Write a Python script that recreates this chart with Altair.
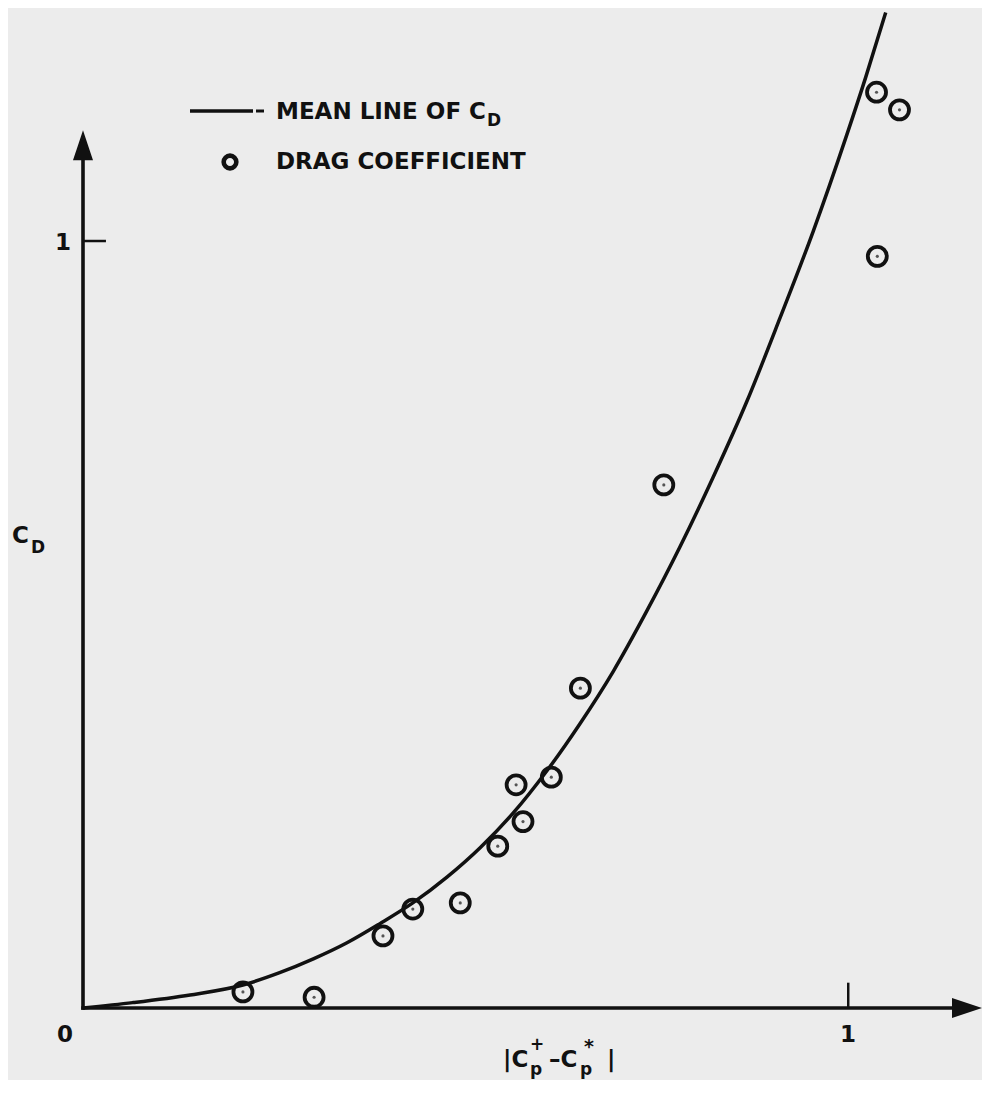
import altair as alt
import pandas as pd

# ---- data ----
PT_X = [0.209, 0.302, 0.392, 0.431, 0.493, 0.542, 0.566, 0.575, 0.612, 0.650, 0.759, 1.037, 1.067, 1.038]
PT_Y = [0.021, 0.014, 0.094, 0.129, 0.137, 0.211, 0.291, 0.243, 0.301, 0.417, 0.682, 1.194, 1.171, 0.980]

CURVE_X = [0.0, 0.065, 0.140, 0.209, 0.257, 0.301, 0.345, 0.388, 0.431, 0.476, 0.519, 0.562,
           0.606, 0.649, 0.693, 0.737, 0.780, 0.823, 0.868, 0.911, 0.954, 0.998, 1.023, 1.049]
CURVE_Y = [0.0, 0.007, 0.017, 0.030, 0.046, 0.064, 0.085, 0.110, 0.137, 0.171, 0.209, 0.254,
           0.309, 0.370, 0.439, 0.518, 0.601, 0.691, 0.792, 0.900, 1.012, 1.138, 1.214, 1.298]

X_TICKS = [1]
Y_TICKS = [1]

INK = "#111111"
BG = "#ececec"
FONT = "DejaVu Sans"

W, H = 897, 1000
xs = alt.Scale(domain=[0, 1.1722], nice=False, zero=False)
ys = alt.Scale(domain=[0, 1.3038], nice=False, zero=False)

pts = pd.DataFrame({"x": PT_X, "y": PT_Y})
crv = pd.DataFrame({"x": CURVE_X, "y": CURVE_Y})

X = lambda f="x": alt.X(f"{f}:Q", scale=xs, axis=None)
Y = lambda f="y": alt.Y(f"{f}:Q", scale=ys, axis=None)

curve = alt.Chart(crv).mark_line(
    interpolate="monotone", color=INK, strokeWidth=3.5
).encode(x=X(), y=Y())

rings = alt.Chart(pts).mark_point(
    shape="circle", size=361, filled=False, strokeWidth=3.8, color=INK, opacity=1
).encode(x=X(), y=Y())

dots = alt.Chart(pts).mark_point(
    shape="circle", size=10, filled=True, color="#555555", opacity=1
).encode(x=X(), y=Y())

# axes (in data units)
X_END, Y_END = 1.1552, 1.125
axes_df = pd.DataFrame({
    "x": [0, 0], "x2": [X_END, 0],
    "y": [0, 0], "y2": [0, Y_END],
})
axes = alt.Chart(axes_df).mark_rule(color=INK, strokeWidth=3.6, strokeCap="square").encode(
    x=X("x"), x2="x2:Q", y=Y("y"), y2="y2:Q"
)

xt = pd.DataFrame({"x": X_TICKS, "y": [0] * len(X_TICKS), "y2": [0.033] * len(X_TICKS)})
xticks = alt.Chart(xt).mark_rule(color=INK, strokeWidth=2.5).encode(
    x=X("x"), y=Y("y"), y2="y2:Q"
)
yt = pd.DataFrame({"y": Y_TICKS, "x": [0] * len(Y_TICKS), "x2": [0.03] * len(Y_TICKS)})
yticks = alt.Chart(yt).mark_rule(color=INK, strokeWidth=2.5).encode(
    y=Y("y"), x=X("x"), x2="x2:Q"
)

xarrow = alt.Chart(pd.DataFrame({"x": [X_END], "y": [0]})).mark_point(
    shape="M1,0L-1,0.667L-1,-0.667Z", size=900, filled=True, color=INK, opacity=1, strokeWidth=0
).encode(x=X(), y=Y())
yarrow = alt.Chart(pd.DataFrame({"x": [0], "y": [Y_END]})).mark_point(
    shape="M0,-1L0.667,1L-0.667,1Z", size=900, filled=True, color=INK, opacity=1, strokeWidth=0
).encode(x=X(), y=Y())

# ---- annotations (page px -> plot px) ----
OX, OY = 83, 8
one = pd.DataFrame({"a": [0]})


def txt(t, px, py, size=23, align="left", baseline="alphabetic"):
    return alt.Chart(one).mark_text(
        font=FONT, fontWeight="bold", fontSize=size, color=INK,
        align=align, baseline=baseline
    ).encode(x=alt.value(px - OX), y=alt.value(py - OY), text=alt.value(t))


def seg(px1, px2, py, w=3.6):
    return alt.Chart(one).mark_rule(color=INK, strokeWidth=w).encode(
        x=alt.value(px1 - OX), x2=alt.value(px2 - OX), y=alt.value(py - OY)
    )


legend_ring = alt.Chart(one).mark_point(
    shape="circle", size=160, filled=False, strokeWidth=4.6, color=INK, opacity=1
).encode(x=alt.value(230 - OX), y=alt.value(162 - OY))

texts = [
    txt("MEAN LINE OF C", 276, 119),
    txt("D", 487, 126, size=17),
    txt("DRAG COEFFICIENT", 276, 169),
    # axis labels
    txt("0", 65, 1042, align="center"),
    txt("1", 848, 1042, align="center"),
    txt("1", 71, 250, align="right"),
    # y title
    txt("C", 12, 543),
    txt("D", 31, 553, size=17),
    # x title |Cp+ - Cp*|
    txt("|C", 503, 1067),
    txt("p", 530, 1075, size=17),
    txt("+", 530, 1050, size=17),
    txt("\u2013C", 549, 1067),
    txt("p", 580, 1075, size=17),
    txt("*", 584, 1053, size=19),
    txt("|", 607, 1067),
]

chart = alt.layer(
    axes, xticks, yticks, xarrow, yarrow, curve, rings, dots,
    seg(190, 253, 111), seg(256, 264, 111, 3.0), legend_ring, *texts
).properties(
    width=W, height=H,
    padding={"left": OX - 8, "top": OY - 8, "right": 2, "bottom": 72},
    autosize=alt.AutoSizeParams(type="none"),
).configure(background=BG).configure_view(stroke=None)

chart.save("out.html", embed_options={"renderer": "svg", "actions": False})
